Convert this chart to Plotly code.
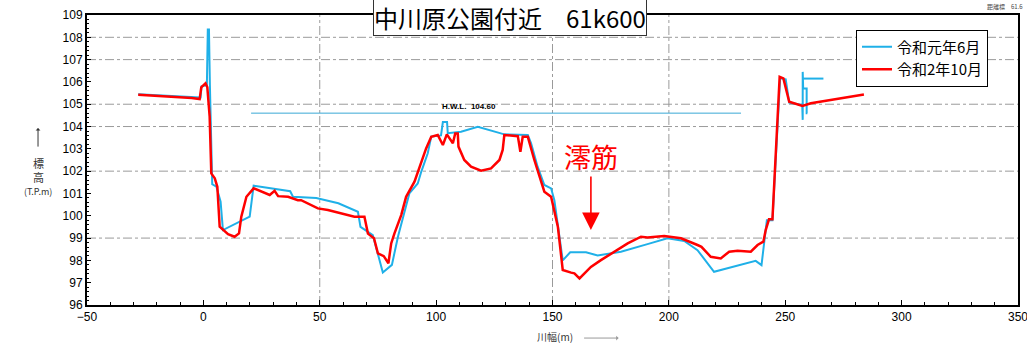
import plotly.graph_objects as go

# ---- data ----
blue_name = "令和元年6月"
blue_x = [-28, -1.2, -0.8, 1.5, 1.9, 2.4, 2.8, 3.8, 5.6, 7.4, 8.4, 19.9, 21.6, 37.3, 38.5,
          48.5, 58, 66.4, 67.5, 72.8, 77.1, 81, 83.6, 86.4, 88.5, 92.1, 93.6, 96.4, 97.9,
          102.1, 102.9, 104.7, 105, 110.7, 117.9, 129.3, 139.4, 140.8, 143.6, 146.5, 149.4,
          150.8, 152.3, 154.4, 157.6, 164.4, 169.4, 179.4, 190.8, 199.4, 206.6, 212.3, 219.4,
          237.3, 239.8, 242.1, 244.5, 247.8, 250.2, 251.7, 257.3, 257.5, 257.5, 257.7, 259.2,
          259.2, 259.5, None, 257.7, 266.4]
blue_y = [105.45, 105.3, 105.8, 105.85, 108.35, 108.35, 105.86, 101.42, 101.3, 100.63, 99.36,
          99.96, 101.35, 101.1, 100.85, 100.8, 100.56, 100.18, 99.5, 99.13, 97.46, 97.8, 99.06,
          100.1, 101.0, 101.45, 101.97, 102.8, 103.55, 103.6, 104.2, 104.2, 103.7, 103.77,
          103.99, 103.65, 103.62, 103.25, 102.2, 101.38, 101.23, 100.7, 99.5, 98.0, 98.36,
          98.36, 98.22, 98.39, 98.73, 98.99, 98.87, 98.46, 97.49, 97.98, 97.79, 99.8, 99.8,
          106.16, 106.12, 105.07, 104.97, 104.3, 106.45, 105.7, 105.7, 104.6, 104.6, None,
          106.15, 106.15]

red_name = "令和2年10月"
red_x = [-28, -15, -5, -1.6, -0.9, 0.9, 1.7, 2.7, 3.4, 4.9, 6.0, 7.0, 8.4, 10.6, 13.4, 15.3,
         16.3, 18.5, 21.6, 23.5, 26.3, 28.5, 30.6, 32.1, 36.4, 40.6, 42, 49.2, 53.5, 59.2,
         64.9, 69.2, 70.7, 73.3, 75, 77.5, 79.5, 80.7, 82.1, 85, 87.1, 90.7, 93.6, 95.7, 97.9,
         100.7, 102.9, 104.6, 107.2, 108.2, 109.3, 109.6, 112.1, 115, 119.3, 123.6, 127.2,
         128.6, 129.3, 135.1, 136.2, 137.2, 139.4, 142.2, 146.5, 149.4, 152.3, 154.4, 158,
         159.4, 161.6, 163.7, 166.5, 170.8, 176.5, 182.3, 188, 190.8, 198, 205.2, 212.3, 214,
         218, 222.3, 225.9, 229.5, 235.2, 238.1, 240.6, 241.6, 243, 244.5, 247.6, 249.2,
         251.7, 257.4, 261, 283.8]
red_y = [105.43, 105.35, 105.28, 105.23, 105.76, 105.94, 105.76, 104.44, 101.9, 101.68, 101.3,
         99.51, 99.36, 99.17, 99.06, 99.21, 99.96, 100.85, 101.23, 101.15, 101.03, 100.93,
         101.12, 100.88, 100.85, 100.7, 100.7, 100.33, 100.26, 100.1, 99.96, 99.96, 99.2,
         98.99, 98.31, 98.19, 97.87, 98.76, 99.21, 100.03, 100.85, 101.53, 102.35, 103.02,
         103.54, 103.62, 103.17, 103.65, 103.25, 103.69, 103.69, 103.1, 102.5, 102.2, 102.02,
         102.12, 102.5, 102.95, 103.62, 103.57, 102.87, 103.54, 103.54, 102.5, 101.08, 100.85,
         99.51, 97.57, 97.45, 97.42, 97.19, 97.42, 97.71, 98.01, 98.39, 98.76, 99.06, 99.03,
         99.09, 98.99, 98.69, 98.61, 98.16, 98.09, 98.39, 98.43, 98.39, 98.69, 98.84, 99.36,
         99.84, 99.84, 106.23, 106.16, 105.11, 104.92, 105.04, 105.44]

hwl_x = [20.5, 231]
hwl_level = 104.6
hwl_label = "H.W.L.  104.60"

title_text = "中川原公園付近　61k600"
mio_text = "澪筋"
mio_x, mio_y = 166.5, 99.45

y_grid = [99, 102, 104, 105, 107, 108]
x_grid = [50, 150, 200]

BLUE = "#1fb0e8"
RED = "#ff0000"
CJK = "Noto Sans CJK JP"
LAT = "Arial, Liberation Sans, sans-serif"

fig = go.Figure()
fig.add_trace(go.Scatter(x=hwl_x, y=[hwl_level] * len(hwl_x), mode="lines",
                         line=dict(color="#3aa9d6", width=1), showlegend=False,
                         hoverinfo="skip"))
fig.add_trace(go.Scatter(x=blue_x, y=blue_y, mode="lines", name=blue_name,
                         line=dict(color=BLUE, width=2), connectgaps=False))
fig.add_trace(go.Scatter(x=red_x, y=red_y, mode="lines", name=red_name,
                         line=dict(color=RED, width=2.5)))

shapes = []
for v in y_grid:
    shapes.append(dict(type="line", xref="paper", x0=0, x1=1, yref="y", y0=v, y1=v,
                       line=dict(color="#9a9a9a", width=1, dash="dashdot"), layer="below"))
for v in x_grid:
    shapes.append(dict(type="line", yref="paper", y0=0, y1=1, xref="x", x0=v, x1=v,
                       line=dict(color="#9a9a9a", width=1, dash="dashdot"), layer="below"))

annotations = [
    dict(text=title_text, xref="paper", yref="paper", x=0.4545, y=0.99, showarrow=False,
         xanchor="center", yanchor="middle", font=dict(family=CJK, size=24, color="black"),
         bgcolor="white", bordercolor="#333", borderwidth=1, borderpad=0),
    dict(text="<b>" + hwl_label + "</b>", x=114, y=hwl_level, xref="x", yref="y",
         showarrow=False, yanchor="bottom", yshift=0, font=dict(family=LAT, size=8, color="black")),
    dict(text=mio_text, x=mio_x, y=mio_y, xref="x", yref="y", showarrow=False,
         yanchor="middle", yshift=72, font=dict(family=CJK, size=27, color=RED)),
    dict(text="", x=mio_x, y=mio_y, xref="x", yref="y", showarrow=True, ax=0, ay=-55,
         arrowhead=2, arrowsize=2.2, arrowwidth=1.6, arrowcolor=RED, yshift=-2),
    # y-axis title
    dict(text="", xref="paper", yref="paper", x=-0.0526, y=0.61, showarrow=True, ax=0, ay=20,
         arrowhead=1, arrowsize=0.8, arrowwidth=1, arrowcolor="#333"),
    dict(text="標", xref="paper", yref="paper", x=-0.0526, y=(305 - 163) / 290,
         showarrow=False, xanchor="center", yanchor="middle",
         font=dict(family=CJK, size=11, color="#333")),
    dict(text="高", xref="paper", yref="paper", x=-0.0526, y=(305 - 177) / 290,
         showarrow=False, xanchor="center", yanchor="middle",
         font=dict(family=CJK, size=11, color="#333")),
    dict(text="(T.P.m)", xref="paper", yref="paper", x=-0.0526, y=(305 - 191) / 290,
         showarrow=False, xanchor="center", yanchor="middle",
         font=dict(family=CJK, size=9, color="#333")),
    # x-axis title
    dict(text="川幅(m)", xref="paper", yref="paper", x=0.503, y=-0.11, showarrow=False,
         xanchor="center", yanchor="middle", font=dict(family=CJK, size=10, color="#333")),
    dict(text="", xref="paper", yref="paper", x=0.571, y=-0.114, showarrow=True, ax=-36, ay=0,
         arrowhead=1, arrowsize=0.8, arrowwidth=1, arrowcolor="#999"),
    dict(text="距離標　61.6", xref="paper", yref="paper", x=(1025 - 87) / 931, y=(305 - 7) / 290,
         showarrow=False, xanchor="right", yanchor="middle",
         font=dict(family=CJK, size=6, color="#444")),
]

fig.update_layout(
    width=1027, height=343,
    margin=dict(l=87, r=9, t=15, b=38, autoexpand=False),
    paper_bgcolor="white", plot_bgcolor="white",
    showlegend=True,
    legend=dict(x=0.826, y=0.95, xanchor="left", yanchor="top",
                bordercolor="black", borderwidth=1, bgcolor="white",
                font=dict(family=CJK, size=15, color="black"), itemwidth=30,
                tracegroupgap=6),
    shapes=shapes, annotations=annotations,
    xaxis=dict(range=[-50, 350], tick0=0, dtick=50, showgrid=False, zeroline=False,
               showline=True, linecolor="black", linewidth=2, mirror=True, automargin=False,
               ticks="inside", ticklen=5, tickcolor="black", ticklabeloverflow="allow",
               minor=dict(dtick=10, ticks="inside", ticklen=3, tickcolor="black"),
               tickfont=dict(family=LAT, size=12, color="black")),
    yaxis=dict(range=[96, 109], tick0=96, dtick=1, showgrid=False, zeroline=False,
               showline=True, linecolor="black", linewidth=2, mirror=True, automargin=False,
               ticks="inside", ticklen=4, tickcolor="black", ticklabeloverflow="allow",
               minor=dict(dtick=0.2, ticks="inside", ticklen=2, tickcolor="black"),
               tickfont=dict(family=LAT, size=12, color="black")),
)

fig.write_html(
    "out.html",
    config={"displayModeBar": False, "responsive": False},
    post_script="document.documentElement.style.overflow='hidden';"
                "document.body.style.margin='0';document.body.style.overflow='hidden';",
)
